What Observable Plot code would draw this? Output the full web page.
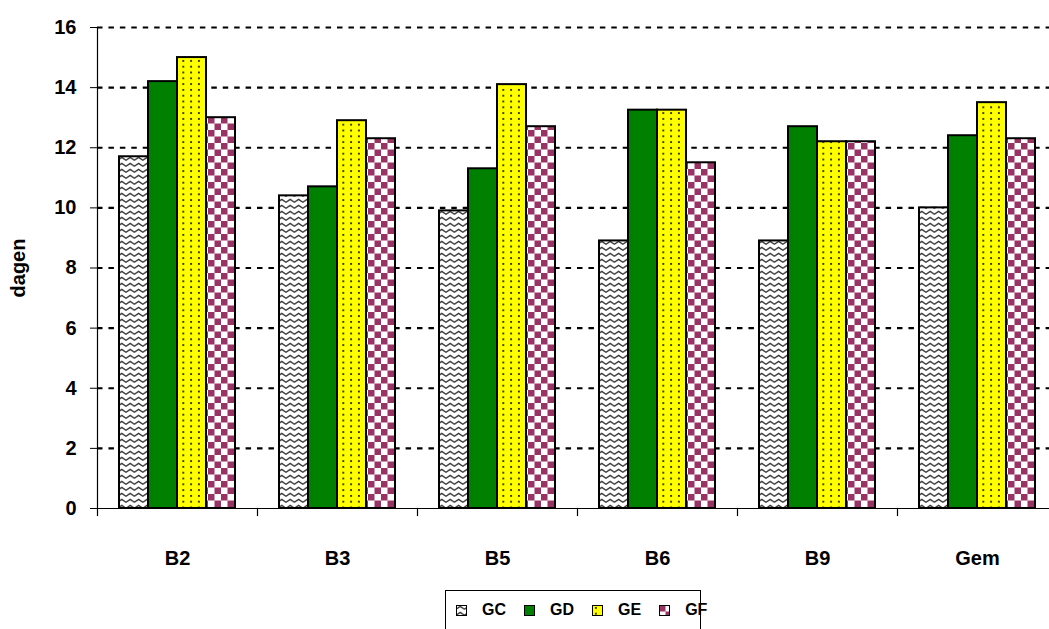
<!DOCTYPE html>
<html>
<head>
<meta charset="utf-8">
<script src="https://cdn.jsdelivr.net/npm/d3@7"></script>
<script src="https://cdn.jsdelivr.net/npm/@observablehq/plot@0.6"></script>
<style>
  html, body { margin: 0; padding: 0; background: #fff; overflow: hidden; }
  body { width: 1049px; height: 629px; }
  #legend { margin-left: 445px; margin-top: 2px; width: 256px; height: 40px; box-sizing: border-box;
            border: 1px solid #000; display: flex; align-items: center; padding-left: 10px;
            font: bold 16px "Liberation Sans", Arial, sans-serif; color: #000; }
  #legend .item { display: flex; align-items: center; margin-right: 18px; }
  #legend .item span { margin-left: 15px; }
</style>
</head>
<body>
<svg width="0" height="0" style="position:absolute">
  <defs>
    <pattern id="pat-GC" patternUnits="userSpaceOnUse" width="8.4" height="6">
      <rect width="8.4" height="6" fill="#fff"/>
      <path d="M-0.5,4.6 L4.2,1.4 L8.9,4.6" fill="none" stroke="#333" stroke-width="1.3"/>
    </pattern>
    <pattern id="pat-GD" patternUnits="userSpaceOnUse" width="8" height="8">
      <rect width="8" height="8" fill="#008000"/>
    </pattern>
    <pattern id="pat-GE" patternUnits="userSpaceOnUse" width="7.8" height="5.8">
      <rect width="7.8" height="5.8" fill="#ffff00"/>
      <circle cx="3.9" cy="2.9" r="1" fill="#000"/>
    </pattern>
    <pattern id="pat-GF" patternUnits="userSpaceOnUse" width="13" height="13">
      <rect width="13" height="13" fill="#fff"/>
      <rect x="0" y="0" width="6.5" height="6.5" fill="#993366"/>
      <rect x="6.5" y="6.5" width="6.5" height="6.5" fill="#993366"/>
    </pattern>
  </defs>
</svg>
<div id="chart"></div>
<div id="legend"></div>
<script>
const categories = ["B2", "B3", "B5", "B6", "B9", "Gem"];
const seriesNames = ["GC", "GD", "GE", "GF"];
const GC = [11.7, 10.4, 9.9, 8.9, 8.9, 10.0];
const GD = [14.2, 10.7, 11.3, 13.25, 12.7, 12.4];
const GE = [15.0, 12.9, 14.1, 13.25, 12.2, 13.5];
const GF = [13.0, 12.3, 12.7, 11.5, 12.2, 12.3];
const yTicks = [0, 2, 4, 6, 8, 10, 12, 14, 16];
const yLabel = "dagen";

const seriesValues = {GC, GD, GE, GF};
const rows = [];
seriesNames.forEach(s => categories.forEach((c, i) => rows.push({cat: c, series: s, value: seriesValues[s][i]})));

const font = '"Liberation Sans", Arial, sans-serif';

const marks = [
  Plot.gridY(yTicks.filter(t => t > 0), {stroke: "#000", strokeOpacity: 1, strokeWidth: 2.2, strokeDasharray: "5.5,5.93"}),
  ...seriesNames.map(s => Plot.barY(rows, {
    filter: d => d.series === s, fx: "cat", x: "series", y: "value",
    fill: `url(#pat-${s})`, stroke: "#000", strokeWidth: 2
  })),
  Plot.frame({anchor: "left", facet: "super", stroke: "#000", strokeWidth: 1.2}),
  Plot.ruleY([0], {stroke: "#000", strokeWidth: 1.2}),
  Plot.frame({anchor: "left", insetTop: 481, insetBottom: -7, stroke: "#000", strokeWidth: 1.2}),
  Plot.axisY(yTicks, {tickSize: 7, tickPadding: 14, label: yLabel, labelAnchor: "center", labelOffset: 87, labelArrow: "none",
    fontSize: 20, fontWeight: "bold", stroke: "#000"}),
  Plot.axisFx({anchor: "bottom", tickSize: 0, tickPadding: 42, label: null, fontSize: 20, fontWeight: "bold"})
];

const chart = Plot.plot({
  width: 1049, height: 588,
  marginTop: 27, marginBottom: 80, marginLeft: 97, marginRight: -8,
  style: {fontFamily: font, fontSize: "20px", fontWeight: "bold", background: "#fff", color: "#000", overflow: "hidden"},
  fx: {domain: categories, paddingInner: 0, paddingOuter: 0, label: null},
  x: {domain: seriesNames, paddingInner: 0, paddingOuter: 0.74, axis: null},
  y: {domain: [0, 16], label: yLabel},
  marks
});
document.getElementById("chart").appendChild(chart);

const legend = d3.select("#legend");
seriesNames.forEach(s => {
  const item = legend.append("div").attr("class", "item");
  const sw = item.append("svg").attr("width", 11).attr("height", 11);
  sw.append("rect").attr("x", 0.5).attr("y", 0.5).attr("width", 10).attr("height", 10)
    .attr("fill", `url(#pat-${s})`).attr("stroke", "#000").attr("stroke-width", 1);
  item.append("span").text(s);
});
</script>
</body>
</html>
